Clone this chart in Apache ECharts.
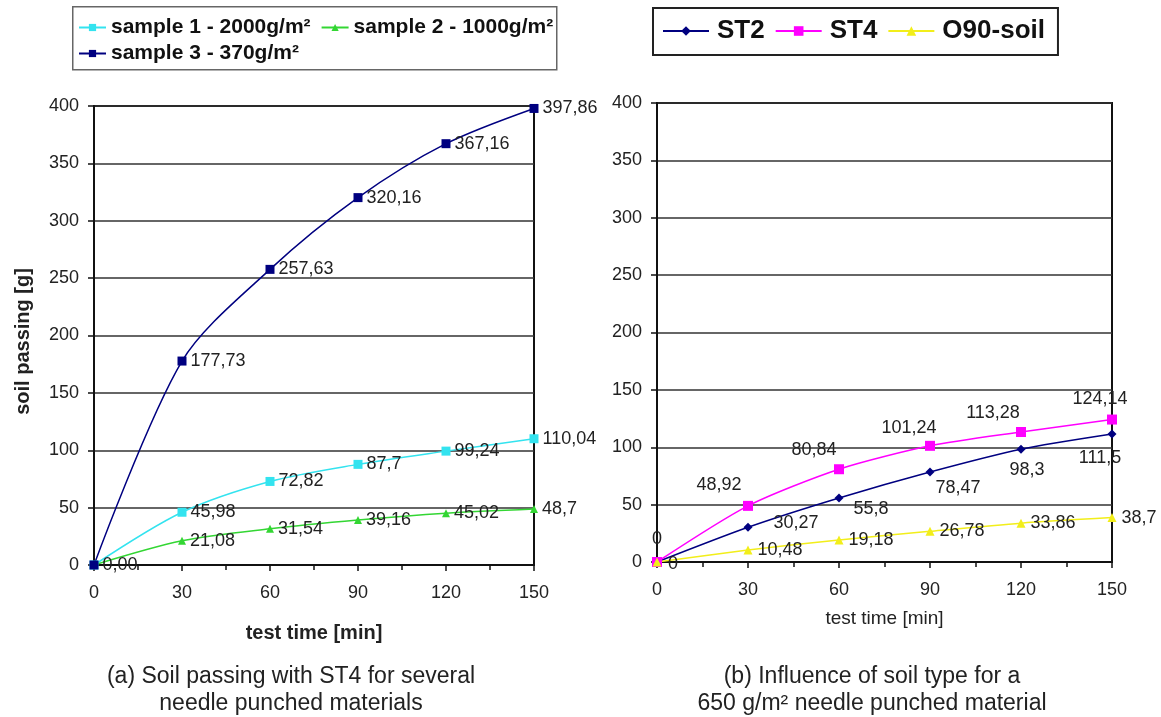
<!DOCTYPE html>
<html>
<head>
<meta charset="utf-8">
<script src="https://cdn.jsdelivr.net/npm/echarts@6/dist/echarts.min.js"></script>
<style>html,body{margin:0;padding:0;background:#fff}#c{width:1161px;height:717px}</style>
</head>
<body>
<div id="c"></div>
<script>
// ---- data ----
const times = [0, 30, 60, 90, 120, 150];
const sample1 = [0, 45.98, 72.82, 87.7, 99.24, 110.04];
const sample2 = [0, 21.08, 31.54, 39.16, 45.02, 48.7];
const sample3 = [0, 177.73, 257.63, 320.16, 367.16, 397.86];
const st2 = [0, 30.27, 55.8, 78.47, 98.3, 111.5];
const st4 = [0, 48.92, 80.84, 101.24, 113.28, 124.14];
const o90 = [0, 10.48, 19.18, 26.78, 33.86, 38.7];
const yTicks = [0, 50, 100, 150, 200, 250, 300, 350, 400];
const xTicks = [0, 30, 60, 90, 120, 150];
const leftNames = ['sample 1 - 2000g/m²', 'sample 2 - 1000g/m²', 'sample 3 - 370g/m²'];
const rightNames = ['ST2', 'ST4', 'O90-soil'];

// ---- layout (label offsets, not data) ----
const st2LabelOffsets = [[16, 2], [48, -4], [32, 11], [28, 16], [6, 21], [-12, 24]];
const st4LabelOffsets = [[0, -23], [-29, -21], [-25, -19], [-21, -18], [-28, -19], [-12, -21]];

const FONT = "'Liberation Sans', Arial, sans-serif";
const fmt = v => String(v).replace('.', ',');

function pairs(vals) { return times.map((t, i) => [t, vals[i]]); }

function axisX(gridIndex, name, bold, nameGap, nameSize) {
  return {
    type: 'value', gridIndex, min: xTicks[0], max: xTicks[xTicks.length - 1], interval: 30,
    name, nameLocation: 'middle', nameGap,
    nameTextStyle: { fontFamily: FONT, fontSize: nameSize, fontWeight: bold ? 'bold' : 'normal', color: '#222' },
    axisLine: { show: true, lineStyle: { color: '#111', width: 2 } },
    axisTick: { show: true, length: 6, lineStyle: { color: '#111', width: 1.5 } },
    minorTick: { show: true, splitNumber: 2, length: 5, lineStyle: { color: '#111', width: 1.5 } },
    axisLabel: { fontFamily: FONT, fontSize: 18, color: '#222', margin: 19 },
    splitLine: { show: false }
  };
}
function axisY(gridIndex, name) {
  return {
    type: 'value', gridIndex, min: yTicks[0], max: yTicks[yTicks.length - 1], interval: 50,
    name, nameLocation: 'middle', nameGap: 61,
    nameTextStyle: { fontFamily: FONT, fontSize: 20, fontWeight: 'bold', color: '#222', padding: [0, 12, 0, 0] },
    axisLine: { show: true, lineStyle: { color: '#111', width: 2 } },
    axisTick: { show: true, length: 6, lineStyle: { color: '#111', width: 1.5 } },
    axisLabel: { fontFamily: FONT, fontSize: 18, color: '#222', margin: 15 },
    splitLine: { show: true, lineStyle: { color: '#333', width: 1.5 } }
  };
}

const labelBase = { fontFamily: FONT, fontSize: 18, color: '#222' };

function leftSeries(name, vals, color, symbol, size, showZero, zeroText) {
  return {
    name, type: 'line', xAxisIndex: 0, yAxisIndex: 0, smooth: 0.3,
    data: pairs(vals), symbol, symbolSize: size,
    lineStyle: { color, width: 1.5 }, itemStyle: { color },
    label: {
      show: true, position: 'right', distance: 4, ...labelBase,
      formatter: p => p.dataIndex === 0 ? (showZero ? zeroText : '') : fmt(p.value[1])
    },
    z: 3
  };
}

function rightSeries(name, vals, color, symbol, size, offsets, posDefault) {
  const data = pairs(vals).map((d, i) => {
    const item = { value: d };
    if (offsets) item.label = { position: 'inside', offset: offsets[i] };
    return item;
  });
  return {
    name, type: 'line', xAxisIndex: 1, yAxisIndex: 1, smooth: 0.25,
    data, symbol, symbolSize: size,
    lineStyle: { color, width: 1.5 }, itemStyle: { color },
    label: {
      show: true, position: posDefault || 'right', distance: 5, ...labelBase,
      formatter: p => (p.dataIndex === 0 && !offsets) ? '' : fmt(p.value[1])
    },
    z: 3
  };
}

const captionStyle = { fontFamily: FONT, fontSize: 23, fontWeight: 'normal', color: '#222', lineHeight: 27 };
const leftLegendText = { fontFamily: FONT, fontSize: 21, fontWeight: 'bold', color: '#111' };

const chart = echarts.init(document.getElementById('c'), null, { renderer: 'canvas' });
chart.setOption({
  backgroundColor: '#fff',
  animation: false,
  title: [
    { text: '(a) Soil passing with ST4 for several\nneedle punched materials', left: 291, top: 663, textAlign: 'center', padding: 0,
      textStyle: captionStyle },
    { text: '(b) Influence of soil type for a\n650 g/m² needle punched material', left: 872, top: 663, textAlign: 'center', padding: 0,
      textStyle: captionStyle }
  ],
  graphic: [
    { type: 'rect', left: 72, top: 6, shape: { width: 484, height: 63 },
      style: { fill: '#fff', stroke: '#666', lineWidth: 1.5 }, z: -1 }
  ],
  legend: [
    { data: [leftNames[0], leftNames[1]],
      left: 78, top: 17, orient: 'horizontal',
      padding: 0, itemGap: 10, itemWidth: 27, itemHeight: 9,
      textStyle: leftLegendText },
    { data: [leftNames[2]],
      left: 78, top: 43, orient: 'horizontal',
      padding: 0, itemGap: 10, itemWidth: 27, itemHeight: 9,
      textStyle: leftLegendText },
    { data: rightNames,
      left: 653, top: 8, orient: 'horizontal',
      padding: [10, 13, 11, 9], itemGap: 10, itemWidth: 46, itemHeight: 12,
      borderColor: '#222', borderWidth: 2,
      textStyle: { fontFamily: FONT, fontSize: 26, fontWeight: 'bold', color: '#111', padding: [0, 0, 0, 3] } }
  ],
  grid: [
    { left: 94, right: 627, top: 106, bottom: 152, show: true, borderColor: '#111', borderWidth: 2, backgroundColor: '#fff' },
    { left: 657, right: 49, top: 103, bottom: 155, show: true, borderColor: '#111', borderWidth: 2, backgroundColor: '#fff' }
  ],
  xAxis: [axisX(0, 'test time [min]', true, 58, 20), axisX(1, 'test time [min]', false, 47, 19)],
  yAxis: [axisY(0, 'soil passing [g]'), axisY(1, '')],
  series: [
    leftSeries(leftNames[0], sample1, '#33e3ef', 'rect', 9, false),
    leftSeries(leftNames[1], sample2, '#33d633', 'triangle', 8, false),
    leftSeries(leftNames[2], sample3, '#000080', 'rect', 9, true, '0,00'),
    rightSeries(rightNames[0], st2, '#000080', 'diamond', 9, st2LabelOffsets),
    rightSeries(rightNames[1], st4, '#ff00ff', 'rect', 10, st4LabelOffsets),
    rightSeries(rightNames[2], o90, '#f2ee1a', 'triangle', 9, null, 'right')
  ]
});
</script>
</body>
</html>
